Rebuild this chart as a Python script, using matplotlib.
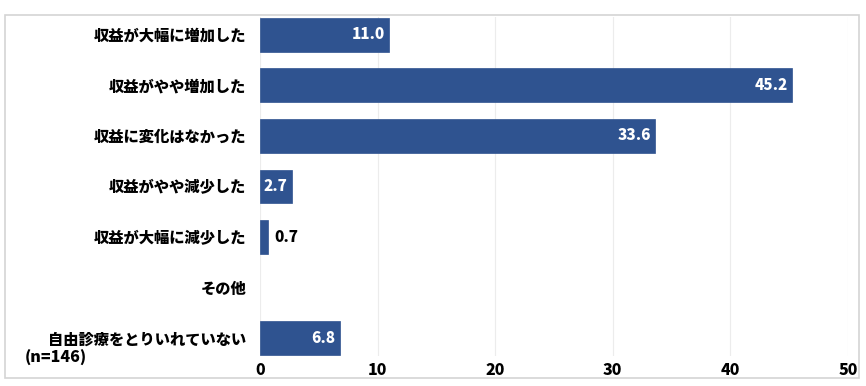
import matplotlib
matplotlib.use("Agg")
import matplotlib.pyplot as plt
from matplotlib.patches import Rectangle

plt.rcParams["font.family"] = ["Noto Sans CJK JP", "DejaVu Sans"]

categories = [
    "収益が大幅に増加した",
    "収益がやや増加した",
    "収益に変化はなかった",
    "収益がやや減少した",
    "収益が大幅に減少した",
    "その他",
    "自由診療をとりいれていない",
]
values = [11.0, 45.2, 33.6, 2.7, 0.7, None, 6.8]
xticks = [0, 10, 20, 30, 40, 50]
note = "(n=146)"

BAR_COLOR = "#2F5390"
WEIGHT = "black"

fig = plt.figure(figsize=(8.66, 3.86), dpi=100)
ax = fig.add_axes([260 / 866, 30 / 386, 588 / 866, 339 / 386])

# outer frame
fig.patches.append(Rectangle((5 / 866, 8 / 386), 854 / 866, 363 / 386,
                             transform=fig.transFigure, fill=False,
                             edgecolor="#d4d4d4", linewidth=1.2))

ys = list(range(len(categories)))
for y, v in zip(ys, values):
    if v is None:
        continue
    ax.barh(y, v, height=0.67, color=BAR_COLOR, edgecolor=BAR_COLOR,
            linewidth=0.5, zorder=3)
    if v >= 2:
        ax.text(v - 0.35, y, f"{v:.1f}", ha="right", va="center",
                color="white", fontsize=11, fontweight=WEIGHT, zorder=4)
    else:
        ax.text(v + 0.5, y, f"{v:.1f}", ha="left", va="center",
                color="black", fontsize=11, fontweight=WEIGHT, zorder=4)

ax.set_xlim(0, 50)
ax.set_ylim(6.35, -0.35)
ax.set_xticks(xticks)
ax.set_xticklabels([str(t) for t in xticks], fontsize=11.5, fontweight=WEIGHT)
ax.set_yticks(ys)
ax.set_yticklabels(categories, fontsize=11, fontweight=WEIGHT)
ax.tick_params(axis="both", length=0)
ax.tick_params(axis="x", pad=5)
ax.tick_params(axis="y", pad=10)

ax.grid(axis="x", color="#ececec", linewidth=0.8, zorder=0)
for s in ax.spines.values():
    s.set_visible(False)

fig.text(25 / 866, 1 - 358 / 386, note, ha="left", va="center",
         fontsize=11.5, fontweight=WEIGHT)

fig.savefig("out.png", dpi=100)
